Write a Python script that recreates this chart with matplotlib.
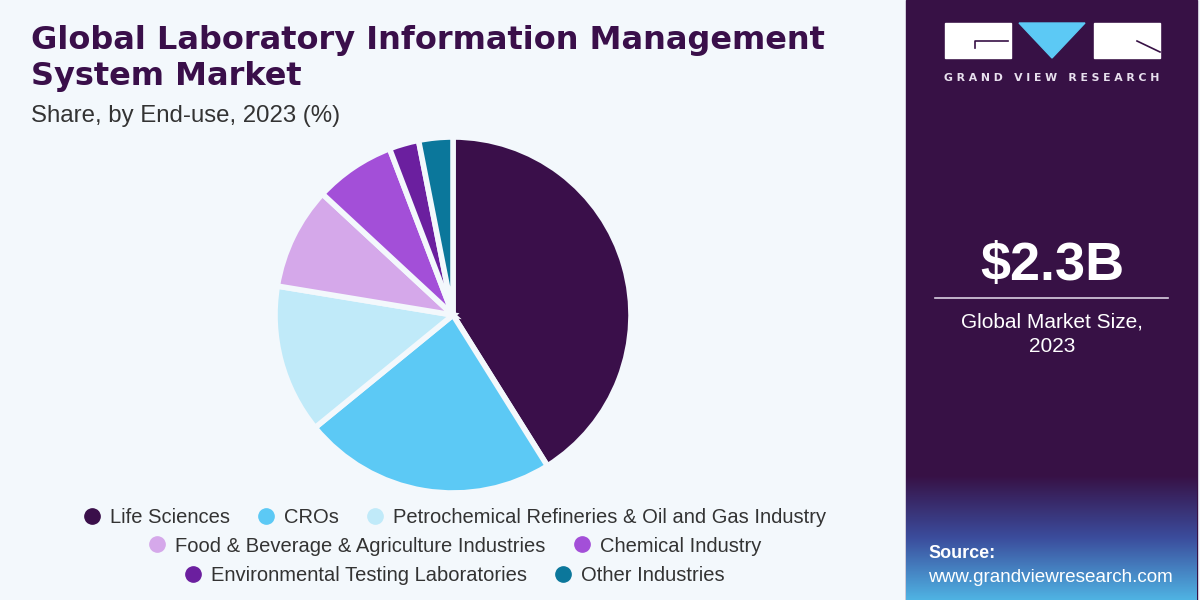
import matplotlib.pyplot as plt
import numpy as np
from matplotlib.patches import Rectangle, Polygon
from matplotlib.lines import Line2D
from matplotlib.colors import LinearSegmentedColormap

# data
segments = ["Life Sciences", "CROs", "Petrochemical Refineries & Oil and Gas Industry",
            "Food & Beverage & Agriculture Industries", "Chemical Industry",
            "Environmental Testing Laboratories", "Other Industries"]
shares = [41.1, 23.0, 13.5, 9.3, 7.3, 2.7, 3.1]
colors = ["#3a0f4a", "#5cc9f5", "#c0eaf9", "#d5a8ea", "#a34fd8", "#6b1f9f", "#0b779b"]
legend_rows = [[0, 1, 2], [3, 4], [5, 6]]

bg = "#f3f8fc"
purple = "#371145"

fig = plt.figure(figsize=(12, 6), dpi=100)
fig.patch.set_facecolor(bg)

# overlay in pixel coordinates for the decorations
deco = fig.add_axes([0, 0, 1, 1])
deco.set_xlim(0, 1200)
deco.set_ylim(600, 0)
deco.axis("off")

# sidebar
deco.add_patch(Rectangle((906, 0), 291, 600, color=purple, zorder=1))
cmap = LinearSegmentedColormap.from_list("side", [purple, "#3b4c9c", "#4fb3e3"])
grad = np.linspace(0, 1, 200).reshape(-1, 1)
deco.imshow(grad, extent=(906, 1197, 600, 475), cmap=cmap, aspect="auto", zorder=2)
deco.set_xlim(0, 1200)
deco.set_ylim(600, 0)

# logo
deco.add_patch(Rectangle((945, 23), 66, 35, color="white", zorder=3))
deco.plot([975, 975, 1008], [48, 41, 41], color=purple, lw=1.2, zorder=4)
deco.add_patch(Polygon([(1019, 23), (1085, 23), (1052, 58)], color="#5cc9f5", zorder=3))
deco.add_patch(Rectangle((1094, 23), 66, 35, color="white", zorder=3))
deco.plot([1137, 1160], [41, 52], color=purple, lw=1.2, zorder=4)
deco.text(1052, 78, "G R A N D   V I E W   R E S E A R C H", color="#e8e0ee", fontsize=7.8,
          fontweight="bold", ha="center", va="center", zorder=4)

# market size box
deco.text(1052, 266, "$2.3B", color="white", fontsize=39, fontweight="bold",
          ha="center", va="center", family="Liberation Sans", zorder=4)
deco.plot([935, 1168], [298, 298], color="#d8cfe0", lw=1.2, zorder=4)
deco.text(1052, 322, "Global Market Size,", color="white", fontsize=15,
          ha="center", va="center", family="Liberation Sans", zorder=4)
deco.text(1052, 347, "2023", color="white", fontsize=15,
          ha="center", va="center", family="Liberation Sans", zorder=4)
deco.text(928, 554, "Source:", color="white", fontsize=13, fontweight="bold",
          ha="left", va="center", family="Liberation Sans", zorder=4)
deco.text(928, 577, "www.grandviewresearch.com", color="white", fontsize=13.6,
          ha="left", va="center", family="Liberation Sans", zorder=4)

# titles
deco.text(31, 41, "Global Laboratory Information Management", color="#3a0f4a",
          fontsize=23, fontweight="heavy", ha="left", va="center", family="DejaVu Sans")
deco.text(31, 77, "System Market", color="#3a0f4a",
          fontsize=23, fontweight="heavy", ha="left", va="center", family="DejaVu Sans")
deco.text(31, 116, "Share, by End-use, 2023 (%)", color="#333333",
          fontsize=17.3, ha="left", va="center", family="Liberation Sans")

# pie
cx, cy, r = 453, 315, 178
ax = fig.add_axes([(cx - r) / 1200, 1 - (cy + r) / 600, 2 * r / 1200, 2 * r / 600])
ax.pie(shares, colors=colors, startangle=90, counterclock=False,
       wedgeprops=dict(edgecolor=bg, linewidth=4))
ax.set_xlim(-1, 1)
ax.set_ylim(-1, 1)
ax.set_aspect("equal")
ax.axis("off")

# legend rows
row_y = [0.138, 0.09, 0.041]
for row, y in zip(legend_rows, row_y):
    handles = [Line2D([], [], marker="o", linestyle="", markersize=11,
                      markerfacecolor=colors[i], markeredgecolor=colors[i]) for i in row]
    leg = fig.legend(handles, [segments[i] for i in row], loc="center",
                     bbox_to_anchor=(0.3775, y), ncol=len(row), frameon=False,
                     prop={"family": "Liberation Sans", "size": 14.5},
                     handletextpad=0.3, columnspacing=1.2, handlelength=1.2)
    for t in leg.get_texts():
        t.set_color("#333333")

fig.savefig("out.png", dpi=100, facecolor=bg)
